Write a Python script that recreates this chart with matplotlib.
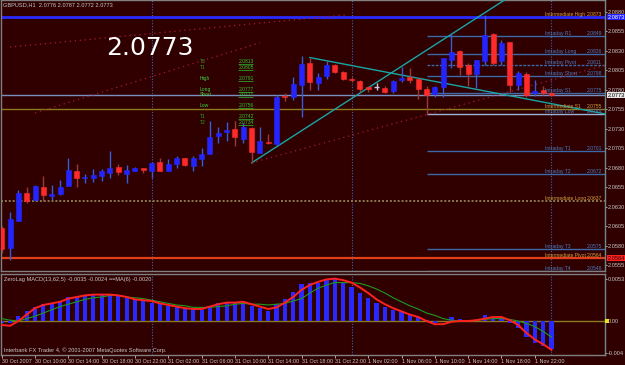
import matplotlib
matplotlib.use("Agg")
import matplotlib.pyplot as plt
import matplotlib.transforms as mtransforms
from matplotlib.patches import Rectangle

# ---------------- data ----------------
opens = [2.0602, 2.0577, 2.0612, 2.0647, 2.0638, 2.0655, 2.0644, 2.0646, 2.0656, 2.0675,
         2.0666, 2.0667, 2.0669, 2.0673, 2.0681, 2.0672, 2.0676, 2.0679, 2.0676, 2.0687,
         2.0676, 2.0685, 2.0692, 2.0682, 2.0691, 2.0697, 2.0720, 2.0725, 2.0729, 2.0717,
         2.0731, 2.0699, 2.0713, 2.0710, 2.0772, 2.0771, 2.0786, 2.0814, 2.0789, 2.0797,
         2.0811, 2.0802, 2.0794, 2.0791, 2.0783, 2.0783, 2.0782, 2.0778, 2.0792, 2.0796,
         2.0794, 2.0781, 2.0774, 2.0783, 2.0818, 2.0829, 2.0811, 2.0800, 2.0817, 2.0851,
         2.0816, 2.0841, 2.0786, 2.0800, 2.0775, 2.0779, 2.0776]
highs = [2.0605, 2.0623, 2.0651, 2.0655, 2.0658, 2.0669, 2.0658, 2.0664, 2.0692, 2.0685,
         2.0672, 2.0678, 2.0678, 2.0701, 2.0685, 2.0683, 2.0681, 2.0680, 2.0687, 2.0692,
         2.0691, 2.0695, 2.0692, 2.0695, 2.0705, 2.0740, 2.0732, 2.0739, 2.0740, 2.0737,
         2.0732, 2.0732, 2.0723, 2.0773, 2.0776, 2.0796, 2.0823, 2.0821, 2.0801, 2.0817,
         2.0813, 2.0804, 2.0796, 2.0792, 2.0785, 2.0788, 2.0785, 2.0792, 2.0809, 2.0808,
         2.0795, 2.0784, 2.0785, 2.0820, 2.0851, 2.0831, 2.0814, 2.0818, 2.0876, 2.0852,
         2.0843, 2.0841, 2.0804, 2.0802, 2.0792, 2.0784, 2.0778]
lows = [2.0570, 2.0561, 2.0611, 2.0634, 2.0637, 2.0637, 2.0639, 2.0645, 2.0656, 2.0655,
        2.0660, 2.0661, 2.0663, 2.0667, 2.0670, 2.0660, 2.0675, 2.0673, 2.0667, 2.0676,
        2.0675, 2.0679, 2.0682, 2.0676, 2.0682, 2.0697, 2.0712, 2.0714, 2.0708, 2.0711,
        2.0686, 2.0699, 2.0710, 2.0709, 2.0765, 2.0767, 2.0745, 2.0779, 2.0780, 2.0794,
        2.0801, 2.0792, 2.0790, 2.0777, 2.0777, 2.0779, 2.0776, 2.0776, 2.0790, 2.0788,
        2.0768, 2.0747, 2.0771, 2.0771, 2.0807, 2.0799, 2.0784, 2.0782, 2.0812, 2.0812,
        2.0812, 2.0777, 2.0780, 2.0771, 2.0772, 2.0773, 2.0772]
closes = [2.0576, 2.0614, 2.0647, 2.0637, 2.0657, 2.0645, 2.0646, 2.0655, 2.0677, 2.0666,
          2.0668, 2.0671, 2.0676, 2.0679, 2.0674, 2.0677, 2.0679, 2.0677, 2.0686, 2.0676,
          2.0685, 2.0692, 2.0683, 2.0692, 2.0698, 2.0719, 2.0724, 2.0728, 2.0719, 2.0732,
          2.0700, 2.0714, 2.0711, 2.0771, 2.0770, 2.0787, 2.0813, 2.0790, 2.0796, 2.0812,
          2.0802, 2.0794, 2.0792, 2.0781, 2.0781, 2.0783, 2.0777, 2.0791, 2.0795, 2.0792,
          2.0781, 2.0773, 2.0783, 2.0820, 2.0828, 2.0809, 2.0800, 2.0818, 2.0850, 2.0814,
          2.0840, 2.0786, 2.0801, 2.0773, 2.0778, 2.0776, 2.0773]

macd_hist = [-0.0003, -0.0003, 0.0006, 0.0012, 0.0018, 0.0021, 0.0023, 0.0025, 0.0030, 0.0030,
             0.0031, 0.0033, 0.0033, 0.0034, 0.0032, 0.0029, 0.0027, 0.0025, 0.0023, 0.0021,
             0.0019, 0.0018, 0.0016, 0.0015, 0.0014, 0.0017, 0.0022, 0.0024, 0.0023, 0.0023,
             0.0019, 0.0016, 0.0013, 0.0021, 0.0028, 0.0036, 0.0046, 0.0048, 0.0048, 0.0051,
             0.0052, 0.0047, 0.0043, 0.0035, 0.0029, 0.0023, 0.0017, 0.0014, 0.0012, 0.0008,
             0.0005, 0.0001, -0.0003, 0.0000, 0.0005, 0.0003, 0.0001, 0.0001, 0.0007, 0.0005,
             0.0005, -0.0003, -0.0009, -0.0020, -0.0027, -0.0031, -0.0035]
macd_line = [-0.0005, -0.0006, 0.0000, 0.0008, 0.0016, 0.0020, 0.0022, 0.0024, 0.0028, 0.0030,
             0.0032, 0.0033, 0.0033, 0.0033, 0.0032, 0.0030, 0.0027, 0.0026, 0.0025, 0.0022,
             0.0020, 0.0018, 0.0016, 0.0015, 0.0015, 0.0018, 0.0021, 0.0023, 0.0023, 0.0024,
             0.0021, 0.0018, 0.0015, 0.0017, 0.0023, 0.0030, 0.0039, 0.0045, 0.0049, 0.0052,
             0.0053, 0.0051, 0.0048, 0.0042, 0.0035, 0.0027, 0.0021, 0.0016, 0.0012, 0.0008,
             0.0005, 0.0000, -0.0004, -0.0004, -0.0001, 0.0000, 0.0000, 0.0001, 0.0003, 0.0005,
             0.0005, 0.0001, -0.0005, -0.0015, -0.0023, -0.0029, -0.0036]
ma_line = [0.0003, 0.0001, 0.0000, 0.0003, 0.0006, 0.0010, 0.0014, 0.0018, 0.0021, 0.0024,
           0.0027, 0.0029, 0.0030, 0.0032, 0.0032, 0.0030, 0.0029, 0.0028, 0.0026, 0.0024,
           0.0022, 0.0020, 0.0019, 0.0017, 0.0017, 0.0017, 0.0018, 0.0019, 0.0021, 0.0022,
           0.0021, 0.0021, 0.0020, 0.0021, 0.0022, 0.0025, 0.0028, 0.0035, 0.0041, 0.0045,
           0.0048, 0.0048, 0.0048, 0.0047, 0.0044, 0.0040, 0.0035, 0.0029, 0.0024, 0.0019,
           0.0015, 0.0010, 0.0007, 0.0003, 0.0001, 0.0000, 0.0000, 0.0001, 0.0002, 0.0003,
           0.0003, 0.0002, 0.0000, -0.0003, -0.0007, -0.0013, -0.0020]

time_labels = ['30 Oct 2007', '30 Oct 10:00', '30 Oct 14:00', '30 Oct 18:00', '30 Oct 22:00',
               '31 Oct 02:00', '31 Oct 06:00', '31 Oct 10:00', '31 Oct 14:00', '31 Oct 18:00',
               '31 Oct 22:00', '1 Nov 02:00', '1 Nov 06:00', '1 Nov 10:00', '1 Nov 14:00',
               '1 Nov 18:00', '1 Nov 22:00']
time_label_step = 4
day_separators = [18, 42, 66]

price_ticks = [2.0880, 2.0855, 2.0830, 2.0805, 2.0780, 2.0755, 2.0730, 2.0705,
               2.0680, 2.0655, 2.0630, 2.0605, 2.0580, 2.0555]
macd_ticks = [0.0053, 0.0, -0.004]
macd_tick_labels = ['0.0053', '0.00', '-0.004']

intraday_names = ['Intraday R1', 'Intraday Long', 'Intraday Pivot', 'Intraday Short',
                  'Intraday S1', 'Intraday Low', 'Intraday T1', 'Intraday T2',
                  'Intraday T3', 'Intraday T4']
intraday_values = [2.0849, 2.0826, 2.0811, 2.0798, 2.0775, 2.0749, 2.0701, 2.0672,
                   2.0575, 2.0548]
intraday_start = 51
intermediate_names = ['Intermediate High', 'Intermediate S1', 'Intermediate Long',
                      'Intermediate Pivot']
intermediate_values = [2.0873, 2.0755, 2.0637, 2.0564]

pivot_names = ['T3', 'T1', 'High', 'Long', 'Short', 'Low', 'T1', 'T2']
pivot_values = [2.0813, 2.0805, 2.0791, 2.0777, 2.0771, 2.0756, 2.0742, 2.0734]

bid_price = 2.0773
symbol_header = 'GBPUSD,H1  2.0776 2.0787 2.0772 2.0773'
macd_header = 'ZeroLag MACD(13,62,5) -0.0035 -0.0024 \u2248\u2248MA(6) -0.0020'
footer = 'Interbank FX Trader 4, \u00a9 2001-2007 MetaQuotes Software Corp.'

# trend lines: (bar index pairs, price pairs)
cyan_up = ([30, 54], [2.0686, 2.0851])
cyan_down = ([37, 63], [2.0821, 2.0768])
red_dotted = [([1, 41.2], [2.08345, 2.08756]),
              ([4, 31], [2.0750, 2.0840]),
              ([30, 72.4], [2.0686, 2.0811])]

# ---------------- style ----------------
W, H = 625, 365
BG = '#300000'
SMALL = ['Liberation Sans Narrow', 'Liberation Sans', 'DejaVu Sans']
FS = 4.1      # axis labels
FS_LVL = 3.6  # level labels
plt.rcParams['font.family'] = SMALL

fig = plt.figure(figsize=(6.25, 3.65), dpi=100, facecolor=BG)


def fx(px):
    return px / W


def fy(py):
    return 1 - py / H


ax = fig.add_axes([fx(1), fy(271), fx(605) - fx(1), fy(0) - fy(271)], facecolor=BG)
axm = fig.add_axes([fx(1), fy(355), fx(605) - fx(1), fy(274) - fy(355)], facecolor=BG)

XL = (-0.084, 72.43)
for a in (ax, axm):
    a.set_xlim(*XL)
    for s in a.spines.values():
        s.set_color('#808080')
        s.set_linewidth(1)
    a.spines['right'].set_color('#6a8a8a')
ax.set_ylim(2.05474, 2.08948)
axm.set_ylim(-0.00425, 0.005875)

# ---- price axis ticks
ax.yaxis.tick_right()
ax.set_yticks(price_ticks)
ax.set_yticklabels(['%.4f' % v for v in price_ticks])
ax.tick_params(axis='y', colors='#c8c8c8', labelsize=FS, length=1.5, pad=0.6, width=0.6)
ax.set_xticks([])

axm.yaxis.tick_right()
axm.set_yticks(macd_ticks)
axm.set_yticklabels(macd_tick_labels)
axm.tick_params(axis='y', colors='#c8c8c8', labelsize=FS, length=1.5, pad=0.6, width=0.6)
tick_pos = [i * time_label_step for i in range(len(time_labels))]
axm.set_xticks(tick_pos)
axm.set_xticklabels(time_labels)
axm.tick_params(axis='x', colors='#c8c8c8', labelsize=3.9, length=2, pad=1, width=0.6)
for lbl in axm.get_xticklabels():
    lbl.set_horizontalalignment('left')

# ---- day separators
for d in day_separators:
    for a in (ax, axm):
        a.axvline(d, color='#3a64b4', lw=0.8, ls=(0, (1, 1.5)), zorder=1)

# ---- intermediate levels (full width)
inter_styles = [dict(color='#2a2aff', lw=2.0, ls='-'),
                dict(color='#8c7a1e', lw=1.0, ls='-'),
                dict(color='#8a7a50', lw=1.4, ls=(0, (1, 1))),
                dict(color='#e0401a', lw=1.6, ls='-')]
for name, val, st in zip(intermediate_names, intermediate_values, inter_styles):
    ax.axhline(val, zorder=2, **st)
    ax.text(65.2, val, name, color='#d0a040', fontsize=FS_LVL, va='bottom', ha='left', zorder=6)
    ax.text(72.06, val, '%.4f' % val, color='#d0a040', fontsize=FS_LVL, va='bottom', ha='right', zorder=6)

# bid line
ax.axhline(bid_price, color='#7890c0', lw=1.0, zorder=2)

# ---- intraday levels
for name, val in zip(intraday_names, intraday_values):
    ls = (0, (2, 1)) if 'Pivot' in name else '-'
    col = '#3c6aa8' if 'Low' not in name else '#9ab4d8'
    ax.hlines(val, intraday_start, XL[1], color=col, lw=1.0, ls=ls, zorder=2)
    ax.text(65.2, val, name, color='#4a7cc0', fontsize=FS_LVL, va='bottom', ha='left', zorder=6)
    ax.text(72.06, val, '%.4f' % val, color='#4a7cc0', fontsize=FS_LVL, va='bottom', ha='right', zorder=6)


# ---- trend lines
def extend(pts, x_end):
    (x0, x1), (y0, y1) = pts
    slope = (y1 - y0) / (x1 - x0)
    return [x0, x_end], [y0, y0 + slope * (x_end - x0)]


xs, ys = extend(cyan_up, 72.4)
ax.plot(xs, ys, color='#1aa5a5', lw=1.0, zorder=3)
xs, ys = extend(cyan_down, 72.4)
ax.plot(xs, ys, color='#1aa5a5', lw=1.0, zorder=3)
for pts in red_dotted:
    ax.plot(pts[0], pts[1], color='#a8183a', lw=0.9, ls=(0, (1, 3)), zorder=3)

# ---- candles
for i, (o, h, l, c) in enumerate(zip(opens, highs, lows, closes)):
    if c > o:
        body, wick = '#2424ff', '#3a5ad8'
    elif c < o:
        body, wick = '#ff2a2a', '#9a3a3a'
    else:
        body, wick = '#c8c8d8', '#c8c8d8'
    ax.vlines(i, l, h, color=wick, lw=1.0, zorder=4)
    if c == o:
        ax.hlines(o, i - 0.35, i + 0.35, color=body, lw=1.0, zorder=5)
    else:
        ax.add_patch(Rectangle((i - 0.3, min(o, c)), 0.6, abs(c - o),
                               facecolor=body, edgecolor=body, lw=0.4, zorder=5))

# ---- pivot text block (green)
for name, val in zip(pivot_names, pivot_values):
    bright = name in ('High', 'Long', 'Short', 'Low')
    ax.text(23.8, val, name, color='#40d040' if bright else '#28a028', fontsize=FS_LVL,
            va='bottom', ha='left', zorder=6)
    ax.text(28.4, val, '%.4f' % val, color='#30c030', fontsize=FS_LVL, va='bottom', ha='left', zorder=6)
    ax.hlines(val, 28.4, 30.2, color='#28a028', lw=0.6, zorder=6)

# big price
ax.text(17.8, 2.0833, '%.4f' % bid_price, color='white', fontsize=18,
        family='DejaVu Sans', ha='center', va='center', zorder=7)

# right axis price boxes
trans = mtransforms.blended_transform_factory(ax.transAxes, ax.transData)
box_specs = [(intermediate_values[0], '#2020ff', 'white'),
             (bid_price, '#e8e8e8', 'black'),
             (intermediate_values[3], '#ff2020', '#300000')]
for val, fc, tc in box_specs:
    ax.text(1.004, val, '%.4f' % val, transform=trans, fontsize=FS, color=tc,
            va='center', ha='left', clip_on=False, zorder=8,
            bbox=dict(boxstyle='square,pad=0.12', fc=fc, ec='none'))
transm = mtransforms.blended_transform_factory(axm.transAxes, axm.transData)
axm.add_patch(Rectangle((1.0, -0.0003), 0.006, 0.0006, transform=transm,
                        facecolor='#e8e020', edgecolor='none', clip_on=False, zorder=8))

# ---- MACD panel
axm.axhline(0, color='#8a7a20', lw=1.0, zorder=1)
idx = list(range(len(macd_hist)))
axm.bar(idx, macd_hist, width=0.5, color='#2828ff', zorder=2)
axm.plot(idx, ma_line, color='#1e9a1e', lw=0.8, zorder=3)
axm.plot(idx, macd_line, color='#ff2020', lw=1.4, zorder=4)

# ---- header texts
fig.text(fx(3), fy(5), symbol_header, color='#c8c8c8', fontsize=FS, va='center', ha='left')
fig.text(fx(4), fy(280), macd_header, color='#c8c8c8', fontsize=FS, va='center', ha='left')
fig.text(fx(4), fy(350), footer, color='#c8c8c8', fontsize=FS, va='center', ha='left')

fig.savefig('out.png', dpi=100, facecolor=BG)
